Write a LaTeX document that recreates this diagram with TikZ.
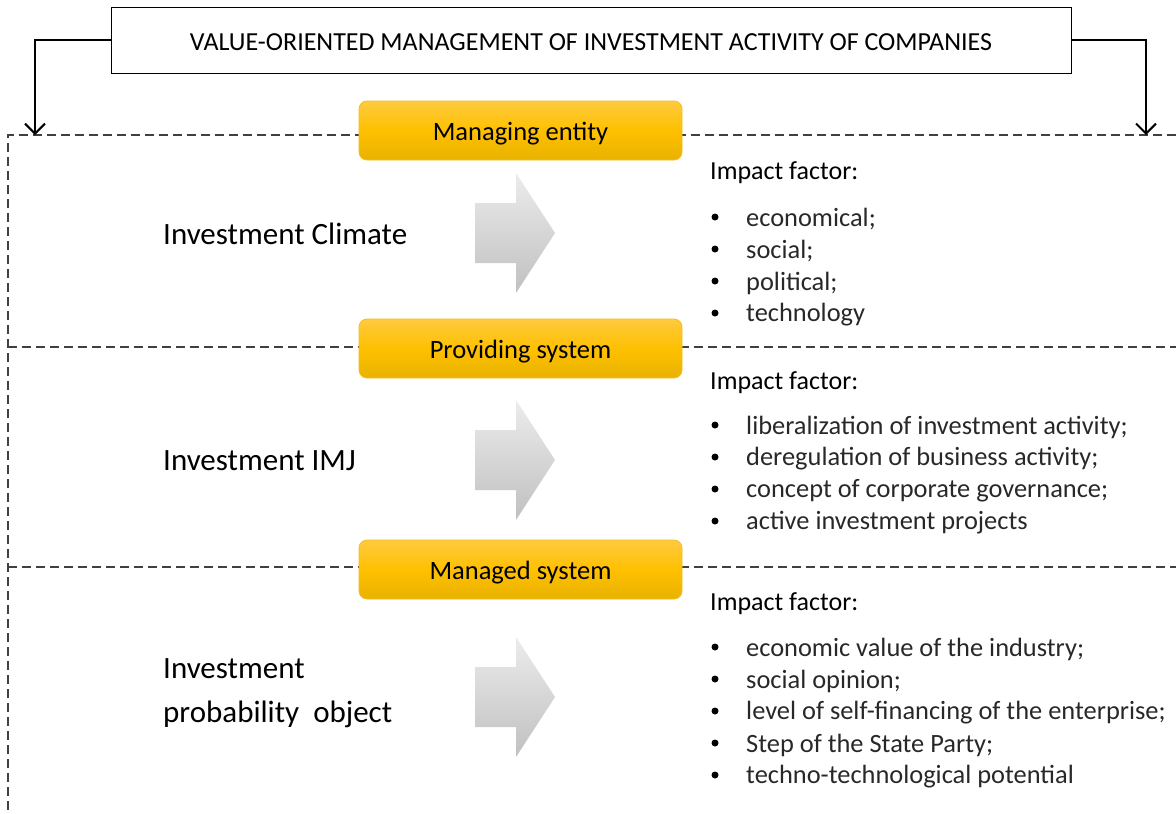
\documentclass[tikz,border=0pt]{standalone}
\usepackage{fontspec}
\setmainfont{Carlito}
\usetikzlibrary{arrows.meta}
\definecolor{ytop}{RGB}{255,202,64}
\definecolor{ymid}{RGB}{255,192,0}
\definecolor{ybot}{RGB}{232,178,0}
\definecolor{yedge}{RGB}{245,190,30}
\definecolor{gtop}{RGB}{236,236,236}
\definecolor{gbot}{RGB}{192,192,192}
\definecolor{itemgray}{RGB}{40,40,40}
\tikzset{
  titlebox/.style={draw=black, line width=1pt, minimum width=960pt, minimum height=66pt, inner sep=0pt, text height=21pt, text depth=0pt, font=\fontsize{26}{30}\selectfont},
  ybox/.style={rounded corners=8pt, draw=yedge, line width=0.8pt, top color=ytop, bottom color=ybot, middle color=ymid, minimum width=323pt, minimum height=59pt, inner sep=0pt, text height=22pt, text depth=3pt, font=\fontsize{26.5}{30}\selectfont},
  sep/.style={dash pattern=on 9pt off 5pt, line width=1.1pt, draw=black!75},
  feed/.style={line width=2pt, -{Straight Barb[length=10pt,width=20pt,line width=2pt]}},
  lefttext/.style={anchor=west, inner sep=0pt, align=left, font=\fontsize{31}{44}\selectfont},
  impact/.style={anchor=west, inner sep=0pt, font=\fontsize{26}{30}\selectfont},
  item/.style={anchor=west, inner sep=0pt, text=itemgray, font=\fontsize{26.4}{30}\selectfont},
  bul/.style={circle, fill=black, inner sep=0pt, minimum size=7pt},
}
\begin{document}
\begin{tikzpicture}[x=1pt,y=-1pt]
\useasboundingbox (0,0) rectangle (1176,814);

% separators
\coordinate (lt) at (35,135);
\coordinate (rt) at (1146,135);
\draw[sep] (1176,135) -- (8,135) -- (8,814);
\draw[sep] (8,347) -- (1176,347);
\draw[sep] (8,567) -- (1176,567);

% title
\node[titlebox] (title) at (591,40) {VALUE-ORIENTED MANAGEMENT OF INVESTMENT ACTIVITY OF COMPANIES};
\draw[feed] (title.west) -| (lt);
\draw[feed] (title.east) -| (rt);

% yellow boxes
\node[ybox] (y1) at (520.5,130.5) {Managing entity};
\node[ybox] (y2) at (520.5,348.5) {Providing system};
\node[ybox] (y3) at (520.5,569.5) {Managed system};

% gray arrows
\foreach \c in {233,460,697}{
  \shade[top color=gtop, bottom color=gbot] (475,\c-30) -- (516,\c-30) -- (516,\c-60) -- (555,\c) -- (516,\c+60) -- (516,\c+30) -- (475,\c+30) -- cycle;
}

% left labels
\node[lefttext] (l1) at (163,234) {Investment Climate};
\node[lefttext] (l2) at (163,461) {Investment IMJ};
\node[lefttext] (l3) at (163,693) {Investment\\probability\ \ object};

% right lists
\node[impact] (i1) at (710,173) {Impact factor:};
\foreach \t [count=\k] in {economical;, social;, political;, technology}{
  \node[bul] (b1\k) at (715,{217+32*(\k-1)}) {};
  \node[item] (t1\k) at (746,{219+32*(\k-1)}) {\t};
}
\node[impact] (i2) at (710,383) {Impact factor:};
\foreach \t [count=\k] in {liberalization of investment activity;, deregulation of business activity;, concept of corporate governance;, active investment projects}{
  \node[bul] (b2\k) at (715,{425+32*(\k-1)}) {};
  \node[item] (t2\k) at (746,{427+32*(\k-1)}) {\t};
}
\node[impact] (i3) at (710,604) {Impact factor:};
\foreach \t [count=\k] in {economic value of the industry;, social opinion;, level of self-financing of the enterprise;, Step of the State Party;, techno-technological potential}{
  \node[bul] (b3\k) at (715,{647+32*(\k-1)}) {};
  \node[item] (t3\k) at (746,{649+32*(\k-1)}) {\t};
}
\end{tikzpicture}
\end{document}
